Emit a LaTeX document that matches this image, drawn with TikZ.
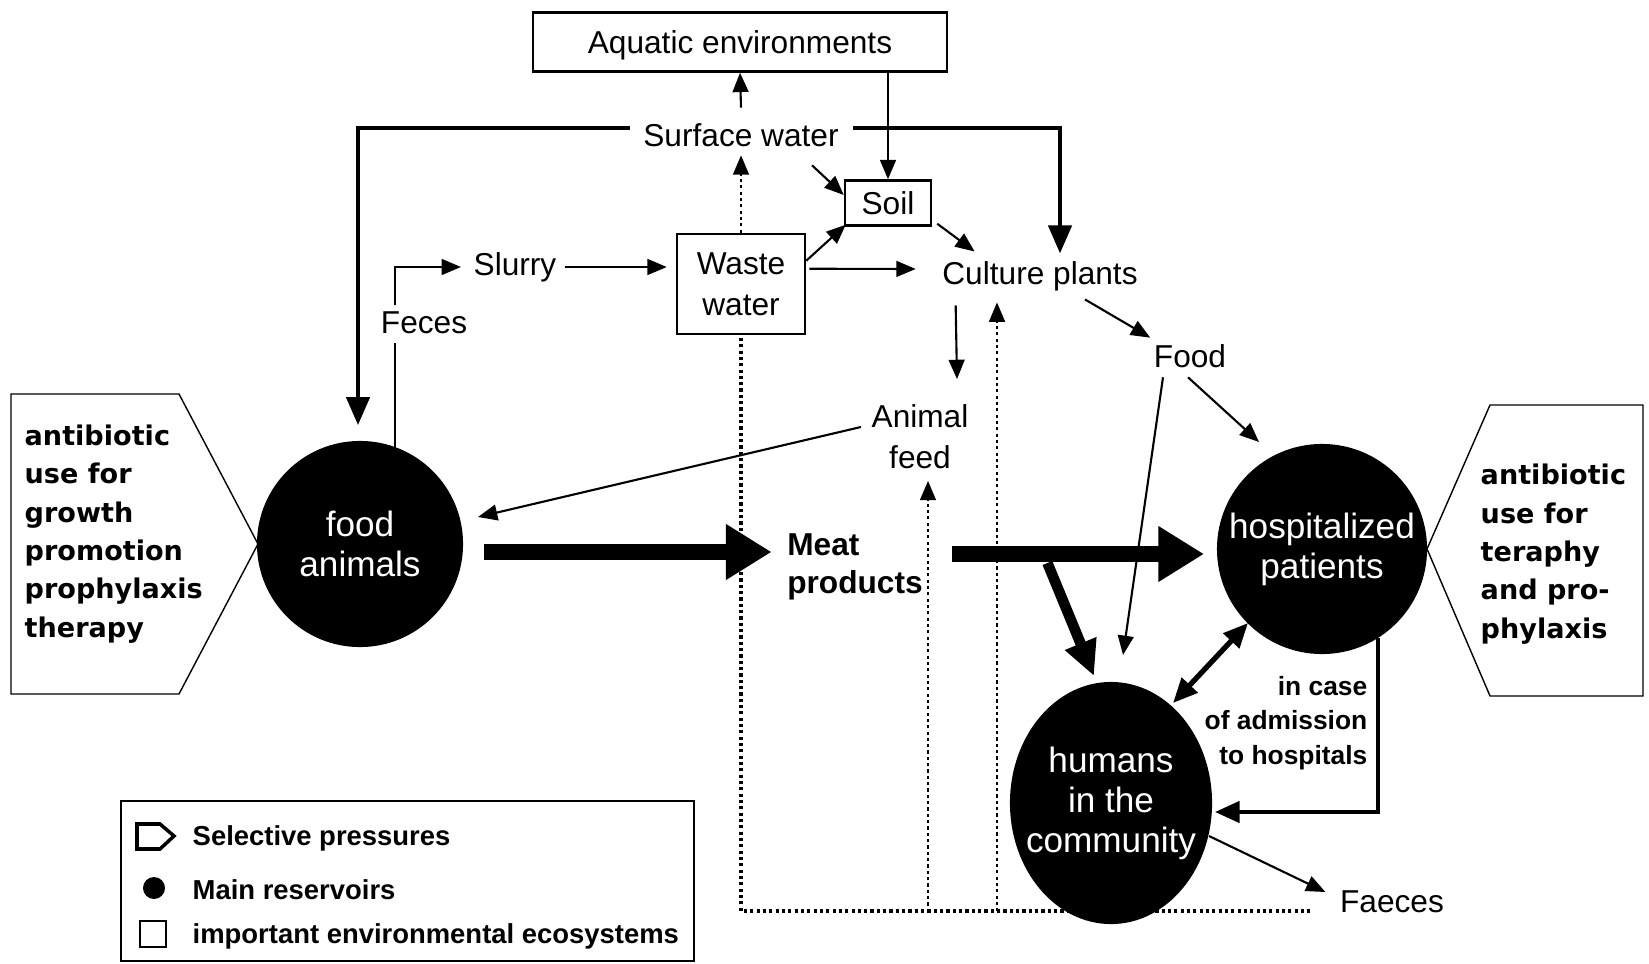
\documentclass[tikz,border=0pt]{standalone}
\usepackage{fontspec}
\setmainfont{Liberation Sans}
\newfontfamily\pfont{DejaVu Sans}
\usetikzlibrary{arrows.meta, positioning, shapes.geometric, calc}

\tikzstyle{txt}       = [inner sep=0pt, font=\fontsize{9}{11.7}\selectfont, align=center]
\tikzstyle{envbox}    = [draw, line width=0.7pt, inner sep=0pt, font=\fontsize{9}{11.7}\selectfont, align=center]
\tikzstyle{reservoir} = [fill=black, text=white, inner sep=0pt, font=\fontsize{10}{11.4}\selectfont, align=center]
\tikzstyle{arrow}     = [line width=0.6pt, -{Triangle[length=5.5pt,width=4.5pt]}]
\tikzstyle{tarrow}    = [line width=1.4pt, -{Triangle[length=8pt,width=6.5pt]}]
\tikzstyle{fatarrow}  = [line width=4.5pt, -{Triangle[length=13pt,width=15pt]}]
\tikzstyle{dotline}   = [line width=1pt, dash pattern=on 0.9pt off 0.9pt]
\tikzstyle{press}     = [inner sep=0pt, anchor=west, align=left, font=\pfont\bfseries\fontsize{7.7}{10.9}\selectfont]
\tikzstyle{legtxt}    = [inner sep=0pt, anchor=west, font=\bfseries\fontsize{7.8}{9}\selectfont]

\begin{document}
\begin{tikzpicture}[x=0.01cm, y=-0.01cm]
\useasboundingbox (0,0) rectangle (1649,964);

% environment
\node[envbox, text depth=0pt, minimum width=4.14cm, minimum height=0.59cm] (aq) at (740,42) {Aquatic environments};
\node[txt] (sw) at (741,135) {Surface water};
\node[envbox, minimum width=0.86cm, minimum height=0.45cm] (so) at (888,203) {Soil};
\node[envbox, minimum width=1.28cm, minimum height=1.00cm] (ww) at (741,284) {Waste\\water};
\node[txt] (sl) at (515,267) {Slurry};
\node[txt] (fe) at (424,323) {Feces};
\node[txt] (cp) at (1040,276) {Culture plants};
\node[txt] (fd) at (1190,356) {Food};
\node[txt] (af) at (920,437) {Animal\\feed};
\node[txt, font=\bfseries\fontsize{9}{11}\selectfont, align=left] (mp) at (855,567) {Meat\\products};
\node[txt, font=\bfseries\fontsize{7.5}{9.9}\selectfont, align=right, anchor=east] (inc) at (1368,723) {in case\\of admission\\to hospitals};
\node[txt] (fc) at (1392,902) {Faeces};

% reservoirs
\node[reservoir, circle, minimum size=2.06cm] (fa) at (360,544) {food\\animals};
\node[reservoir, circle, minimum size=2.10cm] (hp) at (1322,549) {hospitalized\\patients};
\node[reservoir, ellipse, inner sep=-5pt, minimum width=2.02cm, minimum height=2.42cm] (hu) at (1111,803) {humans\\in the\\community};

% selective pressures
\draw[line width=0.4pt] (11,394) -- (179,394) -- (258,544) -- (179,694) -- (11,694) -- cycle;
\node[press] (lt) at (24,534) {antibiotic\\use for\\growth\\promotion\\prophylaxis\\therapy};
\draw[line width=0.4pt] (1643,405) -- (1490,405) -- (1427,549) -- (1490,696) -- (1643,696) -- cycle;
\node[press] (rt) at (1480,554) {antibiotic\\use for\\teraphy\\and pro-\\phylaxis};

% dotted return from faeces
\draw[dotline] ($(fc.west)+(-29,9)$) -| (ww.south);
\draw[dotline, arrow] (ww.north) -- ($(sw.south)+(0,8)$);
\draw[dotline, arrow] ($(af.south)+(8,442)$) -- ($(af.south)+(8,11)$);
\draw[dotline, arrow] ($(cp.south)+(-43,620)$) -- ($(cp.south)+(-43,11)$);

% water and soil
\draw[arrow] ($(sw.north)+(0,-15)$) -- (aq.south);
\draw[arrow] (aq.south -| so.north) -- (so.north);
\draw[tarrow] ($(sw.west)+(-13,-7)$) -| ($(fa.north)+(-2,-15)$);
\draw[tarrow] ($(sw.east)+(14,-7)$) -| ($(cp.north)+(20,-7)$);
\draw[arrow] ($(sw.south)+(71,18)$) -- ($(so.west)+(0,-8)$);

% manure
\draw[line width=0.6pt] ($(fe.south)+(-29,8)$) -- ($(fa.north)+(35,40)$);
\draw[arrow] ($(fe.north)+(-29,-6)$) |- ($(sl.west)+(-12,0)$);
\draw[arrow] ($(sl.east)+(8,0)$) -- ($(ww.west |- sl.east)+(-9,0)$);
\draw[arrow] ($(ww.north east)+(0,28)$) -- ($(so.south west)+(2,-2)$);
\draw[arrow] ($(ww.north east)+(3,36)$) -- ($(cp.west)+(-26,-7)$);
\draw[arrow] ($(so.south east)+(5,-3)$) -- ($(cp.north west)+(33,-9)$);

% plants and food
\draw[arrow] ($(cp.south west)+(14,14)$) -- ($(af.north)+(37,-25)$);
\draw[arrow] ($(cp.south)+(45,8)$) -- ($(fd.north west)+(-3,-6)$);
\draw[arrow] ($(af.west)+(-10,-10)$) -- ($(fa.center)+(118,-27)$);
\draw[arrow] ($(fd.south)+(-2,9)$) -- ($(hp.center)+(-63,-107)$);
\draw[arrow] ($(fd.south)+(-27,9)$) -- ($(hu.center)+(12,-148)$);

% meat
\draw[fatarrow] ($(fa.center)+(124,8)$) -- ($(mp.west)+(-15,-15)$);
\draw[fatarrow] ($(mp.east)+(29,-13)$) -- ($(hp.center)+(-118,5)$);
\draw[line width=3pt, -{Triangle[length=10pt,width=9pt]}] ($(mp.east)+(124,-4)$) -- ($(hu.center)+(-17,-127)$);

% humans
\draw[line width=1.5pt, {Triangle[length=7pt,width=6pt]}-{Triangle[length=7pt,width=6pt]}] ($(hu.center)+(62,-100)$) -- ($(hp.center)+(-74,74)$);
\draw[line width=1.2pt, -{Triangle[length=7pt,width=6pt]}] ($(hp.center)+(56,89)$) |- ($(hu.center)+(104,9)$);
\draw[arrow] ($(hu.center)+(98,33)$) -- ($(fc.west)+(-14,-10)$);

% legend
\draw[line width=0.7pt] (121,801) rectangle (694,961);
\draw[line width=1pt] (137,824) -- (160,824) -- (174,836) -- (160,849) -- (137,849) -- cycle;
\fill (154,888) circle (0.11cm);
\draw[line width=0.7pt] (140,921) rectangle (166,947);
\node[legtxt] (lg1) at (192,838) {Selective pressures};
\node[legtxt] (lg2) at (192,890) {Main reservoirs};
\node[legtxt] (lg3) at (192,936) {important environmental ecosystems};

\end{tikzpicture}
\end{document}
